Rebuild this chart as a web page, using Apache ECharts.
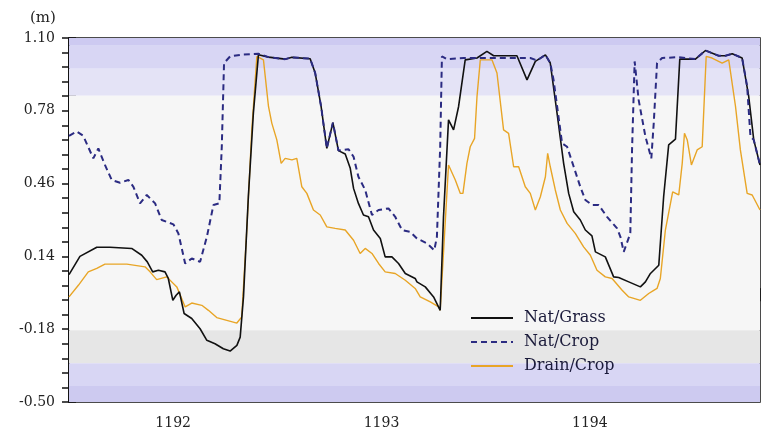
<!DOCTYPE html>
<html>
<head>
<meta charset="utf-8">
<script src="https://cdn.jsdelivr.net/npm/echarts@6/dist/echarts.min.js"></script>
<style>html,body{margin:0;padding:0;background:#fff}#c{width:771px;height:434px}</style>
</head>
<body>
<div id="c"></div>
<script>
// x = months since start of 1192, y = water table depth (m)
const seriesNames = ['Nat/Grass', 'Nat/Crop', 'Drain/Crop'];
const yearLabels = ['1192', '1193', '1194'];
const yTicks = ['1.10', '0.78', '0.46', '0.14', '-0.18', '-0.50'];

const natGrass = [
[0,0.06],[0.63,0.14],[1.60,0.18],[2.36,0.18],[3.61,0.175],[4.19,0.145],[4.51,0.116],[4.82,0.072],
[5.15,0.079],[5.53,0.072],[5.72,0.043],[5.98,-0.053],[6.17,-0.031],[6.36,-0.016],[6.63,-0.111],
[7.07,-0.133],[7.55,-0.178],[7.94,-0.229],[8.41,-0.244],[8.89,-0.266],[9.28,-0.276],[9.67,-0.251],
[9.86,-0.215],[10.05,-0.038],[10.33,0.402],[10.62,0.770],[10.91,1.026],[11.49,1.016],[12.45,1.007],
[12.84,1.015],[13.89,1.009],[14.18,0.946],[14.52,0.799],[14.85,0.615],[15.20,0.728],[15.52,0.605],
[15.91,0.590],[16.20,0.527],[16.39,0.439],[16.67,0.373],[16.96,0.322],[17.25,0.314],[17.54,0.256],
[17.93,0.219],[18.21,0.138],[18.60,0.138],[18.98,0.109],[19.37,0.065],[19.94,0.043],[20.04,0.028],
[20.52,0.006],[21.00,-0.038],[21.38,-0.097],[21.57,0.314],[21.86,0.740],[22.15,0.696],[22.44,0.799],
[22.82,1.004],[23.50,1.012],[24.07,1.041],[24.46,1.022],[25.80,1.022],[26.38,0.916],[26.86,0.997],
[27.44,1.026],[27.72,0.990],[28.11,0.770],[28.49,0.549],[28.78,0.417],[29.07,0.336],[29.45,0.300],
[29.74,0.256],[30.12,0.230],[30.32,0.160],[30.89,0.138],[31.37,0.050],[31.66,0.047],[32.24,0.028],
[32.91,0.006],[33.20,0.028],[33.49,0.065],[33.97,0.101],[34.25,0.402],[34.54,0.630],[34.93,0.655],
[35.18,1.007],[36.08,1.007],[36.66,1.045],[37.42,1.022],[37.81,1.022],[38.20,1.031],[38.77,1.012],
[39.15,0.843],[39.44,0.652],[39.8,0.542]
];

const natCrop = [
[0,0.670],[0.44,0.689],[0.82,0.670],[1.40,0.571],[1.69,0.615],[2.07,0.542],[2.46,0.476],[2.94,0.464],
[3.42,0.476],[3.71,0.446],[4.09,0.373],[4.48,0.410],[4.96,0.373],[5.34,0.300],[6.01,0.281],[6.30,0.241],
[6.69,0.109],[7.07,0.131],[7.55,0.116],[7.94,0.226],[8.32,0.366],[8.66,0.373],[8.80,0.622],[8.93,0.990],
[9.28,1.019],[9.86,1.026],[10.91,1.031],[11.49,1.016],[12.45,1.007],[12.84,1.015],[13.89,1.009],
[14.18,0.946],[14.52,0.799],[14.85,0.615],[15.20,0.728],[15.52,0.605],[16.10,0.611],[16.39,0.578],
[16.67,0.490],[17.06,0.432],[17.45,0.322],[17.83,0.344],[18.40,0.351],[18.79,0.314],[19.18,0.256],
[19.65,0.248],[20.04,0.219],[20.62,0.197],[21.04,0.167],[21.19,0.226],[21.38,0.622],[21.48,1.019],
[21.77,1.007],[22.73,1.012],[26.57,1.012],[26.96,1.001],[27.44,1.026],[27.72,0.990],[27.91,0.916],
[28.40,0.637],[28.69,0.622],[29.07,0.534],[29.45,0.446],[29.74,0.388],[30.13,0.366],[30.51,0.366],
[30.99,0.314],[31.57,0.263],[31.76,0.226],[31.95,0.160],[32.33,0.241],[32.43,0.608],[32.58,0.997],
[32.81,0.828],[33.20,0.667],[33.54,0.571],[33.68,0.726],[33.87,0.990],[34.16,1.012],[35.12,1.016],
[36.08,1.007],[36.66,1.045],[37.42,1.022],[37.81,1.022],[38.20,1.031],[38.77,1.012],[39.06,0.887],
[39.25,0.667],[39.44,0.652],[39.8,0.542]
];

const drainCrop = [
[0,-0.038],[0.54,0.013],[1.11,0.072],[1.60,0.087],[2.07,0.106],[3.33,0.106],[4.38,0.094],[4.67,0.072],
[5.05,0.038],[5.63,0.050],[6.21,0.006],[6.69,-0.082],[7.07,-0.065],[7.65,-0.075],[8.03,-0.097],
[8.51,-0.129],[9.09,-0.141],[9.67,-0.153],[9.95,-0.126],[10.24,0.256],[10.53,0.696],[10.82,1.019],
[11.20,1.004],[11.49,0.799],[11.68,0.726],[11.97,0.652],[12.22,0.549],[12.45,0.571],[12.84,0.564],
[13.12,0.571],[13.41,0.446],[13.70,0.417],[14.08,0.344],[14.47,0.322],[14.85,0.270],[15.33,0.263],
[15.91,0.256],[16.39,0.211],[16.77,0.153],[17.06,0.175],[17.45,0.153],[17.83,0.109],[18.21,0.072],
[18.79,0.065],[19.37,0.035],[19.94,-0.001],[20.23,-0.038],[20.81,-0.060],[21.29,-0.082],[21.38,-0.097],
[21.86,0.542],[22.25,0.476],[22.54,0.417],[22.69,0.417],[22.92,0.549],[23.11,0.622],[23.36,0.659],
[23.50,0.843],[23.69,1.004],[24.36,1.004],[24.65,0.946],[25.03,0.696],[25.32,0.681],[25.61,0.534],
[25.90,0.534],[26.28,0.446],[26.57,0.417],[26.86,0.344],[27.15,0.402],[27.44,0.490],[27.57,0.593],
[27.72,0.534],[28.01,0.432],[28.30,0.344],[28.69,0.285],[29.16,0.241],[29.64,0.182],[30.03,0.145],
[30.41,0.079],[30.89,0.050],[31.28,0.043],[31.86,-0.009],[32.24,-0.038],[32.91,-0.053],[33.39,-0.023],
[33.68,-0.009],[33.87,-0.001],[34.06,0.043],[34.35,0.256],[34.77,0.424],[35.12,0.410],[35.32,0.549],
[35.45,0.681],[35.61,0.652],[35.85,0.542],[36.18,0.608],[36.47,0.622],[36.70,1.019],[37.04,1.012],
[37.62,0.990],[38.00,1.004],[38.39,0.799],[38.67,0.608],[39.06,0.417],[39.35,0.410],[39.8,0.344]
];

// background shading bands [from, to, colour]
const bands = [
  [1.066, 1.10, '#cdcaf1'],
  [0.965, 1.066, '#d8d6f4'],
  [0.846, 0.965, '#e4e3f6'],
  [-0.185, 0.846, '#f6f6f6'],
  [-0.33, -0.185, '#e6e6e6'],
  [-0.43, -0.33, '#d8d6f4'],
  [-0.50, -0.43, '#cdcaf0']
];

const X_MAX = 39.8;
const font = 'DejaVu Serif';
const labelAt = {6: yearLabels[0], 18: yearLabels[1], 30: yearLabels[2]};

const chart = echarts.init(document.getElementById('c'), null, {renderer: 'canvas'});
chart.setOption({
  animation: false,
  backgroundColor: '#fff',
  title: {
    text: '(m)', left: 25, top: 6,
    textStyle: {fontFamily: font, fontSize: 15, fontWeight: 'normal', color: '#222'}
  },
  grid: {left: 69, right: 11, top: 38, bottom: 32, outerBoundsMode: 'none', show: true, borderColor: '#111', borderWidth: 1.5, backgroundColor: 'transparent'},
  legend: {
    orient: 'vertical', left: 470, top: 310, padding: 0,
    data: seriesNames,
    itemWidth: 42, itemHeight: 14, itemGap: 8,
    itemStyle: {opacity: 0},
    textStyle: {fontFamily: font, fontSize: 16, color: '#1a1a3a', padding: [0, 0, 0, 6]},
    inactiveColor: '#999'
  },
  xAxis: [{
    type: 'value', min: 0, max: X_MAX, interval: 1,
    splitLine: {show: false},
    axisLine: {lineStyle: {color: '#111', width: 1.5}},
    axisTick: {length: 6, lineStyle: {color: '#111', width: 1.5}},
    axisLabel: {
      margin: 14, fontFamily: font, fontSize: 14, color: '#222',
      formatter: v => labelAt[Math.round(v)] && Math.abs(v - Math.round(v)) < 1e-6 ? labelAt[Math.round(v)] : '',
      showMinLabel: true, showMaxLabel: false
    }
  }, {
    type: 'value', min: 0, max: X_MAX, interval: 12, position: 'bottom', offset: 0,
    splitLine: {show: false},
    axisLine: {show: false},
    axisTick: {length: 13, lineStyle: {color: '#111', width: 1.5}},
    axisLabel: {show: false}
  }],
  yAxis: [{
    type: 'value', min: -0.5, max: 1.1, interval: 0.32, position: 'left',
    splitLine: {show: false},
    axisLine: {show: true, lineStyle: {color: '#111', width: 1.5}},
    axisTick: {show: true, length: 7, lineStyle: {color: '#111', width: 1.5}},
    minorTick: {show: true, splitNumber: 5, length: 7, lineStyle: {color: '#111', width: 1.5}},
    axisLabel: {margin: 14, fontFamily: font, fontSize: 14, color: '#222',
      formatter: v => { const s = v.toFixed(2); return s === '-0.00' ? '0.00' : s; }}
  }, {
    type: 'value', min: -0.5, max: 1.1, interval: 0.32, position: 'right',
    splitLine: {show: false},
    axisLine: {show: true, lineStyle: {color: '#111', width: 1.5}},
    axisTick: {show: true, length: 7, lineStyle: {color: '#111', width: 1.5}},
    minorTick: {show: true, splitNumber: 5, length: 7, lineStyle: {color: '#111', width: 1.5}},
    axisLabel: {show: false}
  }],
  series: [{
    name: 'bg', type: 'line', data: [], silent: true, z: 0,
    markArea: {
      silent: true,
      data: bands.map(b => [{yAxis: b[0], itemStyle: {color: b[2]}}, {yAxis: b[1]}])
    }
  }, {
    name: seriesNames[2], type: 'line', data: drainCrop, symbol: 'none', z: 3,
    color: '#e8a526',
    lineStyle: {color: '#e8a526', width: 1.4}
  }, {
    name: seriesNames[0], type: 'line', data: natGrass, symbol: 'none', z: 4,
    color: '#111111',
    lineStyle: {color: '#111111', width: 1.6}
  }, {
    name: seriesNames[1], type: 'line', data: natCrop, symbol: 'none', z: 5,
    color: '#2b2b82',
    lineStyle: {color: '#2b2b82', width: 2, type: [6, 4]}
  }]
});
</script>
</body>
</html>
